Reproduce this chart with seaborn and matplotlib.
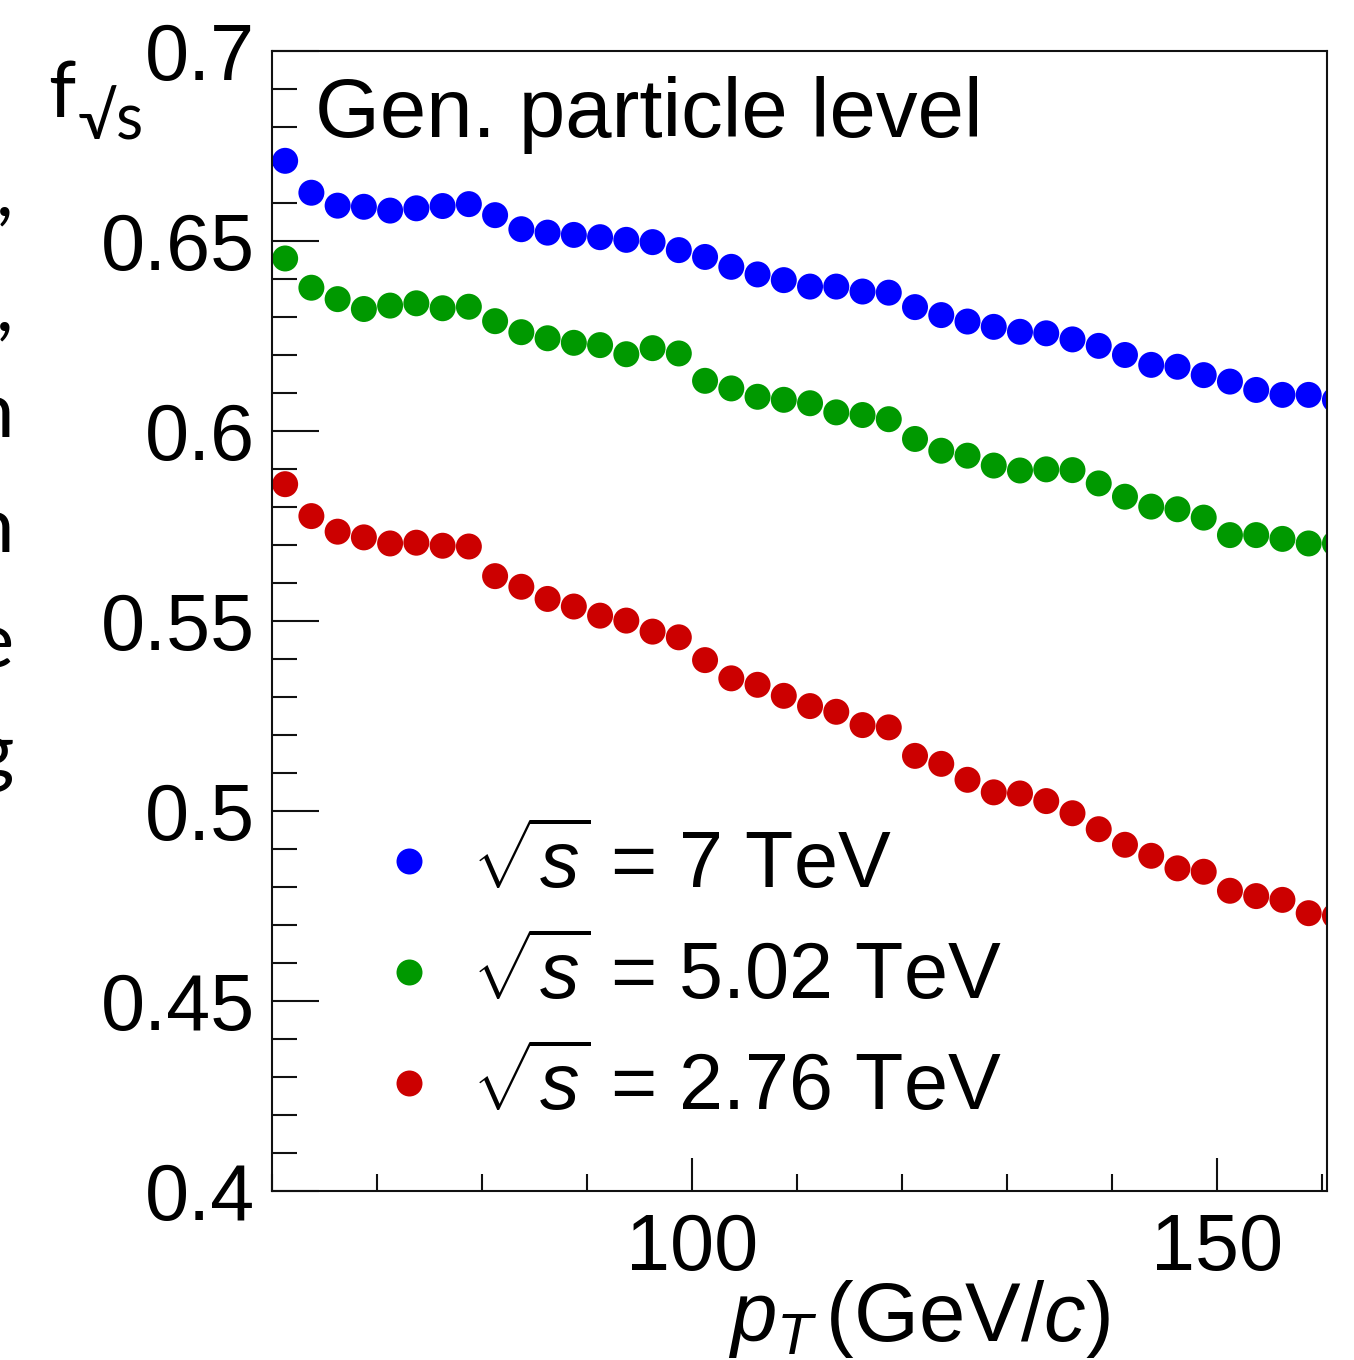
import matplotlib
matplotlib.use("Agg")
import matplotlib.pyplot as plt
import pandas as pd
import seaborn as sns
from matplotlib.ticker import MultipleLocator

# bin centres in pT (GeV/c)
pt_centers = [61.25, 63.75, 66.25, 68.75, 71.25, 73.75, 76.25, 78.75, 81.25, 83.75,
              86.25, 88.75, 91.25, 93.75, 96.25, 98.75, 101.25, 103.75, 106.25, 108.75,
              111.25, 113.75, 116.25, 118.75, 121.25, 123.75, 126.25, 128.75, 131.25, 133.75,
              136.25, 138.75, 141.25, 143.75, 146.25, 148.75, 151.25, 153.75, 156.25, 158.75,
              161.25]

f_7tev = [0.6711, 0.6627, 0.6593, 0.6590, 0.6580, 0.6586, 0.6592, 0.6597, 0.6568, 0.6531,
          0.6522, 0.6516, 0.6510, 0.6503, 0.6497, 0.6476, 0.6458, 0.6432, 0.6412, 0.6397,
          0.6380, 0.6380, 0.6367, 0.6364, 0.6326, 0.6305, 0.6288, 0.6274, 0.6261, 0.6257,
          0.6241, 0.6224, 0.6200, 0.6174, 0.6169, 0.6147, 0.6130, 0.6108, 0.6095, 0.6095,
          0.6082]
f_502tev = [0.6454, 0.6377, 0.6347, 0.6321, 0.6330, 0.6336, 0.6323, 0.6327, 0.6289, 0.6260,
            0.6244, 0.6232, 0.6226, 0.6202, 0.6218, 0.6204, 0.6132, 0.6112, 0.6090, 0.6082,
            0.6073, 0.6049, 0.6042, 0.6031, 0.5979, 0.5948, 0.5935, 0.5909, 0.5896, 0.5899,
            0.5897, 0.5862, 0.5827, 0.5801, 0.5794, 0.5772, 0.5726, 0.5726, 0.5716, 0.5704,
            0.5704]
f_276tev = [0.5860, 0.5776, 0.5735, 0.5720, 0.5704, 0.5706, 0.5698, 0.5696, 0.5618, 0.5590,
            0.5558, 0.5538, 0.5514, 0.5501, 0.5472, 0.5457, 0.5397, 0.5349, 0.5332, 0.5303,
            0.5276, 0.5261, 0.5226, 0.5220, 0.5145, 0.5124, 0.5082, 0.5049, 0.5046, 0.5026,
            0.4994, 0.4952, 0.4911, 0.4882, 0.4849, 0.4840, 0.4790, 0.4776, 0.4766, 0.4731,
            0.4724]

series_labels = [r"$\sqrt{s}$ = 7 TeV", r"$\sqrt{s}$ = 5.02 TeV", r"$\sqrt{s}$ = 2.76 TeV"]
series_colors = ["#0000ff", "#009900", "#cc0000"]

ytick_values = [0.4, 0.45, 0.5, 0.55, 0.6, 0.65, 0.7]
ytick_labels = ["0.4", "0.45", "0.5", "0.55", "0.6", "0.65", "0.7"]
xtick_values = [100, 150]
xtick_labels = ["100", "150"]

# cut-off letters of the neighbouring text at the left edge
margin_fragments = [",", ",", "n", "n", "e", "g"]
margin_baselines = [215, 330, 437, 552, 667, 777]


def main() -> None:
    sns.set_style("ticks")
    plt.rcParams["font.family"] = ["Liberation Sans", "DejaVu Sans"]
    plt.rcParams["mathtext.fontset"] = "custom"
    plt.rcParams["mathtext.rm"] = "Liberation Sans"
    plt.rcParams["mathtext.it"] = "Liberation Sans:italic"
    plt.rcParams["mathtext.bf"] = "Liberation Sans:bold"
    plt.rcParams["text.color"] = "black"
    plt.rcParams["axes.labelcolor"] = "black"
    plt.rcParams["xtick.color"] = "black"
    plt.rcParams["ytick.color"] = "black"

    n = len(pt_centers)
    frame = pd.DataFrame({
        "pt": pt_centers * 3,
        "f": f_7tev + f_502tev + f_276tev,
        "energy": [series_labels[0]] * n + [series_labels[1]] * n + [series_labels[2]] * n,
    })

    fig = plt.figure(figsize=(13.54, 13.6), dpi=100)
    ax = fig.add_axes([0.2009, 0.1243, 0.7792, 0.8382])
    sns.scatterplot(data=frame, x="pt", y="f", hue="energy", hue_order=series_labels,
                    palette=series_colors, s=350, linewidth=0, ax=ax)

    ax.set_xlim(60, 160.5)
    ax.set_ylim(0.4, 0.7)
    ax.set_xticks(xtick_values)
    ax.set_xticklabels(xtick_labels)
    ax.set_yticks(ytick_values)
    ax.set_yticklabels(ytick_labels)
    ax.xaxis.set_minor_locator(MultipleLocator(10))
    ax.yaxis.set_minor_locator(MultipleLocator(0.01))
    ax.tick_params(axis="both", which="both", direction="in", top=False, right=False,
                   width=1.5, color="#111111", labelsize=57, labelcolor="black")
    ax.tick_params(axis="y", which="major", length=34, pad=12)
    ax.tick_params(axis="y", which="minor", length=18)
    ax.tick_params(axis="x", which="major", length=24, pad=15)
    ax.tick_params(axis="x", which="minor", length=12)
    for spine in ax.spines.values():
        spine.set_linewidth(1.5)
        spine.set_color("#111111")

    ax.set_xlabel(r"$p_T\,$(GeV/$c$)", fontsize=60, ha="right", va="top", color="black")
    ax.xaxis.set_label_coords(0.794, -0.076)
    ax.set_ylabel("")

    ax.text(0.041, 0.9246, "Gen. particle level", transform=ax.transAxes,
            fontsize=60, va="baseline", ha="left", color="black")

    handles, labels = ax.get_legend_handles_labels()
    leg = ax.legend(handles, labels, loc="upper left", bbox_to_anchor=(0.107, 0.318),
                    frameon=False, fontsize=57, handlelength=0.6, handletextpad=0.5,
                    labelspacing=0.43, borderpad=0, borderaxespad=0, markerscale=1.0)
    for txt in leg.get_texts():
        txt.set_color("black")

    # y-axis title in the upper left corner
    fig.text(48 / 1354, 1 - 117 / 1360, "f", fontsize=56, family=["Lato", "DejaVu Sans"],
             va="baseline", ha="left", color="black")
    fig.text(78 / 1354, 1 - 140 / 1360, "\u221as", fontsize=45, family=["Lato", "DejaVu Sans"],
             va="baseline", ha="left", color="black")

    for frag, base in zip(margin_fragments, margin_baselines):
        fig.text(14 / 1354, 1 - base / 1360, frag, fontsize=56,
                 family=["Lato", "DejaVu Sans"], va="baseline", ha="right", color="black")

    fig.savefig("out.png", dpi=100)


if __name__ == "__main__":
    main()
